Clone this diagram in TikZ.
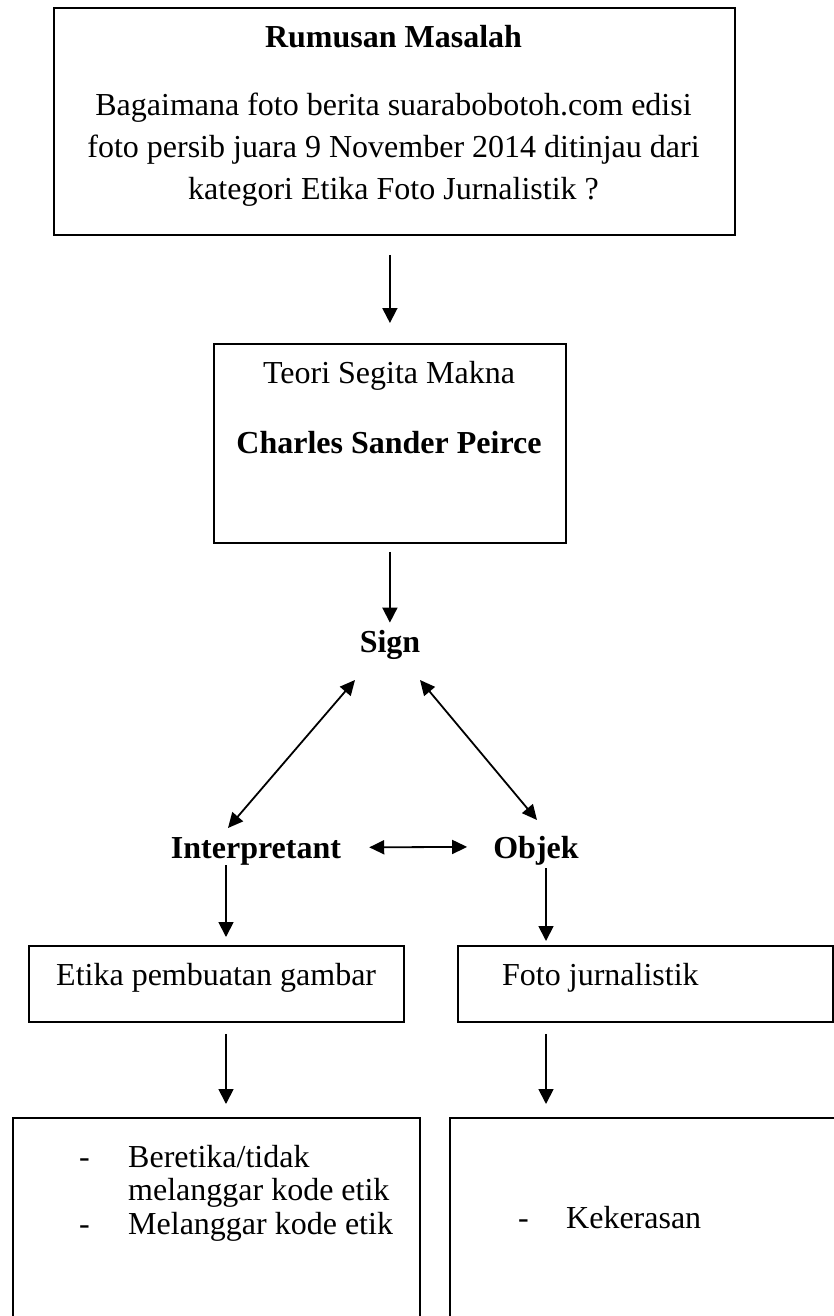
\documentclass[tikz,border=0pt]{standalone}
\usepackage{fontspec}
\setmainfont{Liberation Serif}
\usetikzlibrary{arrows.meta}
\begin{document}
\begin{tikzpicture}[x=1pt,y=1pt,
  box/.style={draw, line width=1.8pt, rectangle, inner sep=0pt, anchor=north west},
  txt/.style={inner sep=0pt, anchor=base, font=\fontsize{32}{40}\selectfont},
  btxt/.style={inner sep=0pt, anchor=base, font=\fontsize{32}{40}\selectfont\bfseries},
  ltxt/.style={inner sep=0pt, anchor=base west, font=\fontsize{32}{40}\selectfont},
  arr/.style={line width=1.8pt, -{Triangle[length=15pt,width=15pt]}},
  darr/.style={line width=1.8pt, {Triangle[length=15pt,width=14pt]}-{Triangle[length=15pt,width=14pt]}},
]
\useasboundingbox (0,0) rectangle (834,-1316);
\clip (0,0) rectangle (834,-1316);

% top box
\node[box, minimum width=681pt, minimum height=227pt] (top) at (53,-7) {};
\node[btxt] (title) at (393.5,-48) {Rumusan Masalah};
\node[txt] (q1) at (393.5,-116) {Bagaimana foto berita suarabobotoh.com edisi};
\node[txt] (q2) at (393.5,-158) {foto persib juara 9 November 2014 ditinjau dari};
\node[txt] (q3) at (393.5,-200) {kategori Etika Foto Jurnalistik ?};

% theory box
\node[box, minimum width=352pt, minimum height=199pt] (teori) at (213,-343) {};
\node[txt] (t1) at (389,-383) {Teori Segita Makna};
\node[btxt] (t2) at (389,-453) {Charles Sander Peirce};

\draw[arr, shorten <=19pt, shorten >=20pt] (teori.north |- top.south) -- (teori.north);

% sign triangle
\node[btxt] (sign) at (390,-652) {Sign};
\node[btxt] (interp) at (256,-858) {Interpretant};
\node[btxt] (objek) at (536,-858) {Objek};

\draw[arr, shorten <=8pt, shorten >=7pt] (teori.south) -- (sign.north -| teori.south);

\coordinate (sl) at (355,-680);
\coordinate (il) at (228,-828);
\coordinate (sr) at (420,-680);
\coordinate (or) at (537,-820);
\draw[darr] (sl) -- (il);
\draw[darr] (sr) -- (or);
\draw[darr, shorten <=28pt, shorten >=26pt] ([yshift=3.5pt]interp.east) -- ([yshift=3.5pt]objek.west);

% second level boxes
\coordinate (lx) at (226,-900);
\coordinate (rx) at (546,-900);
\node[box, minimum width=375pt, minimum height=76pt] (etika) at (28,-945) {};
\node[ltxt] (etikat) at (56,-985) {Etika pembuatan gambar};
\node[box, minimum width=375pt, minimum height=76pt] (foto) at (457,-945) {};
\node[ltxt] (fotot) at (502,-985) {Foto jurnalistik};

\draw[arr, shorten >=8pt] (interp.south -| lx) -- (etika.north -| lx);
\draw[arr, shorten <=3pt, shorten >=4pt] (objek.south -| rx) -- (foto.north -| rx);

% bottom boxes
\node[box, minimum width=407pt, minimum height=240pt] (bl) at (12,-1117) {};
\node[box, minimum width=420pt, minimum height=240pt] (br) at (449,-1117) {};
\draw[arr, shorten <=11pt, shorten >=13pt] (etika.south -| lx) -- (bl.north -| lx);
\draw[arr, shorten <=11pt, shorten >=13pt] (foto.south -| rx) -- (br.north -| rx);

\node[ltxt] (d1) at (79,-1167) {-};
\node[ltxt] (b1) at (128,-1167) {Beretika/tidak};
\node[ltxt] (b2) at (128,-1200) {melanggar kode etik};
\node[ltxt] (d2) at (79,-1234) {-};
\node[ltxt] (b3) at (128,-1234) {Melanggar kode etik};
\node[ltxt] (d3) at (518,-1228) {-};
\node[ltxt] (k1) at (566,-1228) {Kekerasan};
\end{tikzpicture}
\end{document}
